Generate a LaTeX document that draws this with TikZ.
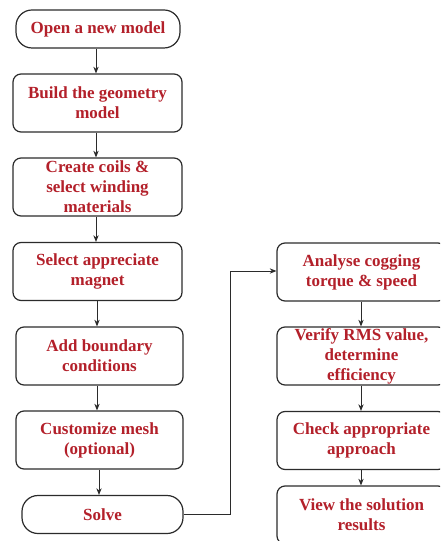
\documentclass[tikz,border=0pt]{standalone}
\usepackage{fontspec}
\setmainfont{Liberation Serif}
\usepackage{xcolor}
\usetikzlibrary{arrows.meta}

\definecolor{stepred}{HTML}{B3202A}
\definecolor{lineg}{HTML}{2B2B2B}

\begin{document}
\begin{tikzpicture}[x=0.75pt,y=-0.75pt,
    box/.style={draw=lineg,line width=0.9pt,rounded corners=6pt,inner sep=0pt,
      text=stepred,align=center,font=\bfseries\fontsize{12.75}{15}\selectfont,
      minimum width=126.75pt,minimum height=43.5pt},
    term/.style={box,rounded corners=12pt,minimum height=28.5pt},
    arr/.style={draw=lineg,line width=0.75pt,-{Stealth[length=5pt,width=4pt]}}]
    \useasboundingbox (0,0) rectangle (440,541);
    \clip (0,0) rectangle (440,541);

    % left column
    \node[term,minimum width=123pt] (open) at (98,29) {Open a new model};
    \node[box] (build) at (97.5,103) {Build the geometry\\model};
    \node[box] (coils) at (97.5,187) {Create coils \&\\select winding\\materials};
    \node[box] (magnet) at (97.5,271.5) {Select appreciate\\magnet};
    \node[box,minimum width=125.25pt] (bound) at (99.5,356) {Add boundary\\conditions};
    \node[box,minimum width=125.25pt] (mesh) at (99.5,440) {Customize mesh\\(optional)};
    \node[term,minimum width=120.75pt] (solve) at (102.5,514.5) {Solve};

    % right column
    \node[box] (cog) at (361.5,272) {Analyse cogging\\torque \& speed};
    \node[box] (rms) at (361.5,356) {Verify RMS value,\\determine\\efficiency};
    \node[box] (check) at (361.5,440.5) {Check appropriate\\approach};
    \node[box] (view) at (361.5,515) {View the solution\\results};

    \draw[arr] (open.south -| 96,0) -- (build.north -| 96,0);
    \draw[arr] (build.south -| 96,0) -- (coils.north -| 96,0);
    \draw[arr] (coils.south -| 96,0) -- (magnet.north -| 96,0);
    \draw[arr] (magnet.south -| 97,0) -- (bound.north -| 97,0);
    \draw[arr] (bound.south -| 97,0) -- (mesh.north -| 97,0);
    \draw[arr] (mesh.south -| 99,0) -- (solve.north -| 99,0);
    \draw[arr] (solve.east) -| (230,271) -- (cog.west |- 0,271);
    \draw[arr] (cog.south -| 361,0) -- (rms.north -| 361,0);
    \draw[arr] (rms.south -| 361,0) -- (check.north -| 361,0);
    \draw[arr] (check.south -| 361,0) -- (view.north -| 361,0);
\end{tikzpicture}
\end{document}
